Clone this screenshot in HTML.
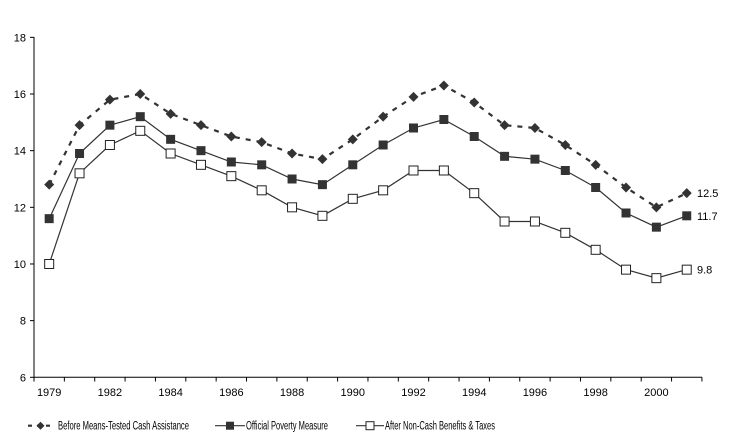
<!DOCTYPE html>
<html><head><style>body{margin:0;background:#fff}svg{display:block;font-family:"Liberation Sans",Arial,sans-serif}</style></head>
<body>
<svg id="s" width="742" height="448" xmlns="http://www.w3.org/2000/svg"></svg>
<script>
const s=document.getElementById('s');let h='';
const X=i=>34+30.36*(i+0.5), Y=v=>377.3-(v-6)*28.33;
h+='<line x1="34" y1="37" x2="34" y2="377.3" stroke="#000"/><line x1="34" y1="377.3" x2="702" y2="377.3" stroke="#000"/>';
for(let v=6;v<=18;v+=2){const y=Y(v);h+=`<line x1="30" y1="${y}" x2="34" y2="${y}" stroke="#000"/><text x="26" y="${y+4}" font-size="11" text-anchor="end">${v}</text>`;}
for(let k=0;k<=22;k++){const x=34+30.36*k;h+=`<line x1="${x}" y1="377.3" x2="${x}" y2="381.5" stroke="#000"/>`;}
const labs=['1979','1982','1984','1986','1988','1990','1992','1994','1996','1998','2000'];
labs.forEach((l,j)=>{h+=`<text x="${X(j*2)}" y="396" font-size="11" text-anchor="middle">${l}</text>`;});
const B=[12.8,14.9,15.8,16.0,15.3,14.9,14.5,14.3,13.9,13.7,14.4,15.2,15.9,16.3,15.7,14.9,14.8,14.2,13.5,12.7,12.0,12.5];
const O=[11.6,13.9,14.9,15.2,14.4,14.0,13.6,13.5,13.0,12.8,13.5,14.2,14.8,15.1,14.5,13.8,13.7,13.3,12.7,11.8,11.3,11.7];
const A=[10.0,13.2,14.2,14.7,13.9,13.5,13.1,12.6,12.0,11.7,12.3,12.6,13.3,13.3,12.5,11.5,11.5,11.1,10.5,9.8,9.5,9.8];
const pts=d=>d.map((v,i)=>X(i).toFixed(1)+','+Y(v).toFixed(1)).join(' ');
h+=`<polyline points="${pts(B)}" fill="none" stroke="#333" stroke-width="2.2" stroke-dasharray="5,6"/>`;
h+=`<polyline points="${pts(O)}" fill="none" stroke="#333" stroke-width="1.2"/>`;
h+=`<polyline points="${pts(A)}" fill="none" stroke="#333" stroke-width="1.2"/>`;
B.forEach((v,i)=>{const x=X(i),y=Y(v);h+=`<polygon points="${x},${y-5} ${x+5},${y} ${x},${y+5} ${x-5},${y}" fill="#333"/>`;});
O.forEach((v,i)=>{h+=`<rect x="${X(i)-4.5}" y="${Y(v)-4.5}" width="9" height="9" fill="#333"/>`;});
A.forEach((v,i)=>{h+=`<rect x="${X(i)-4.5}" y="${Y(v)-4.5}" width="9" height="9" fill="#fff" stroke="#222" stroke-width="1"/>`;});
h+=`<text x="697" y="${Y(12.5)+4}" font-size="11">12.5</text><text x="697" y="${Y(11.7)+4}" font-size="11">11.7</text><text x="697" y="${Y(9.8)+4}" font-size="11">9.8</text>`;
const ly=425.7;
h+=`<line x1="28" y1="${ly}" x2="53" y2="${ly}" stroke="#333" stroke-width="2.2" stroke-dasharray="4,5"/><polygon points="40.5,${ly-4} 44.5,${ly} 40.5,${ly+4} 36.5,${ly}" fill="#333"/>`;
h+=`<text x="58" y="${ly+4}" font-size="11.5" textLength="131" lengthAdjust="spacingAndGlyphs">Before Means-Tested Cash Assistance</text>`;
h+=`<line x1="215" y1="${ly}" x2="245" y2="${ly}" stroke="#333" stroke-width="1.2"/><rect x="226" y="${ly-4}" width="8" height="8" fill="#333"/>`;
h+=`<text x="246" y="${ly+4}" font-size="11.5" textLength="82" lengthAdjust="spacingAndGlyphs">Official Poverty Measure</text>`;
h+=`<line x1="356" y1="${ly}" x2="384" y2="${ly}" stroke="#333" stroke-width="1.2"/><rect x="366" y="${ly-4}" width="8" height="8" fill="#fff" stroke="#222"/>`;
h+=`<text x="385" y="${ly+4}" font-size="11.5" textLength="110" lengthAdjust="spacingAndGlyphs">After Non-Cash Benefits &amp; Taxes</text>`;
s.innerHTML=h;
</script>
</body></html>
